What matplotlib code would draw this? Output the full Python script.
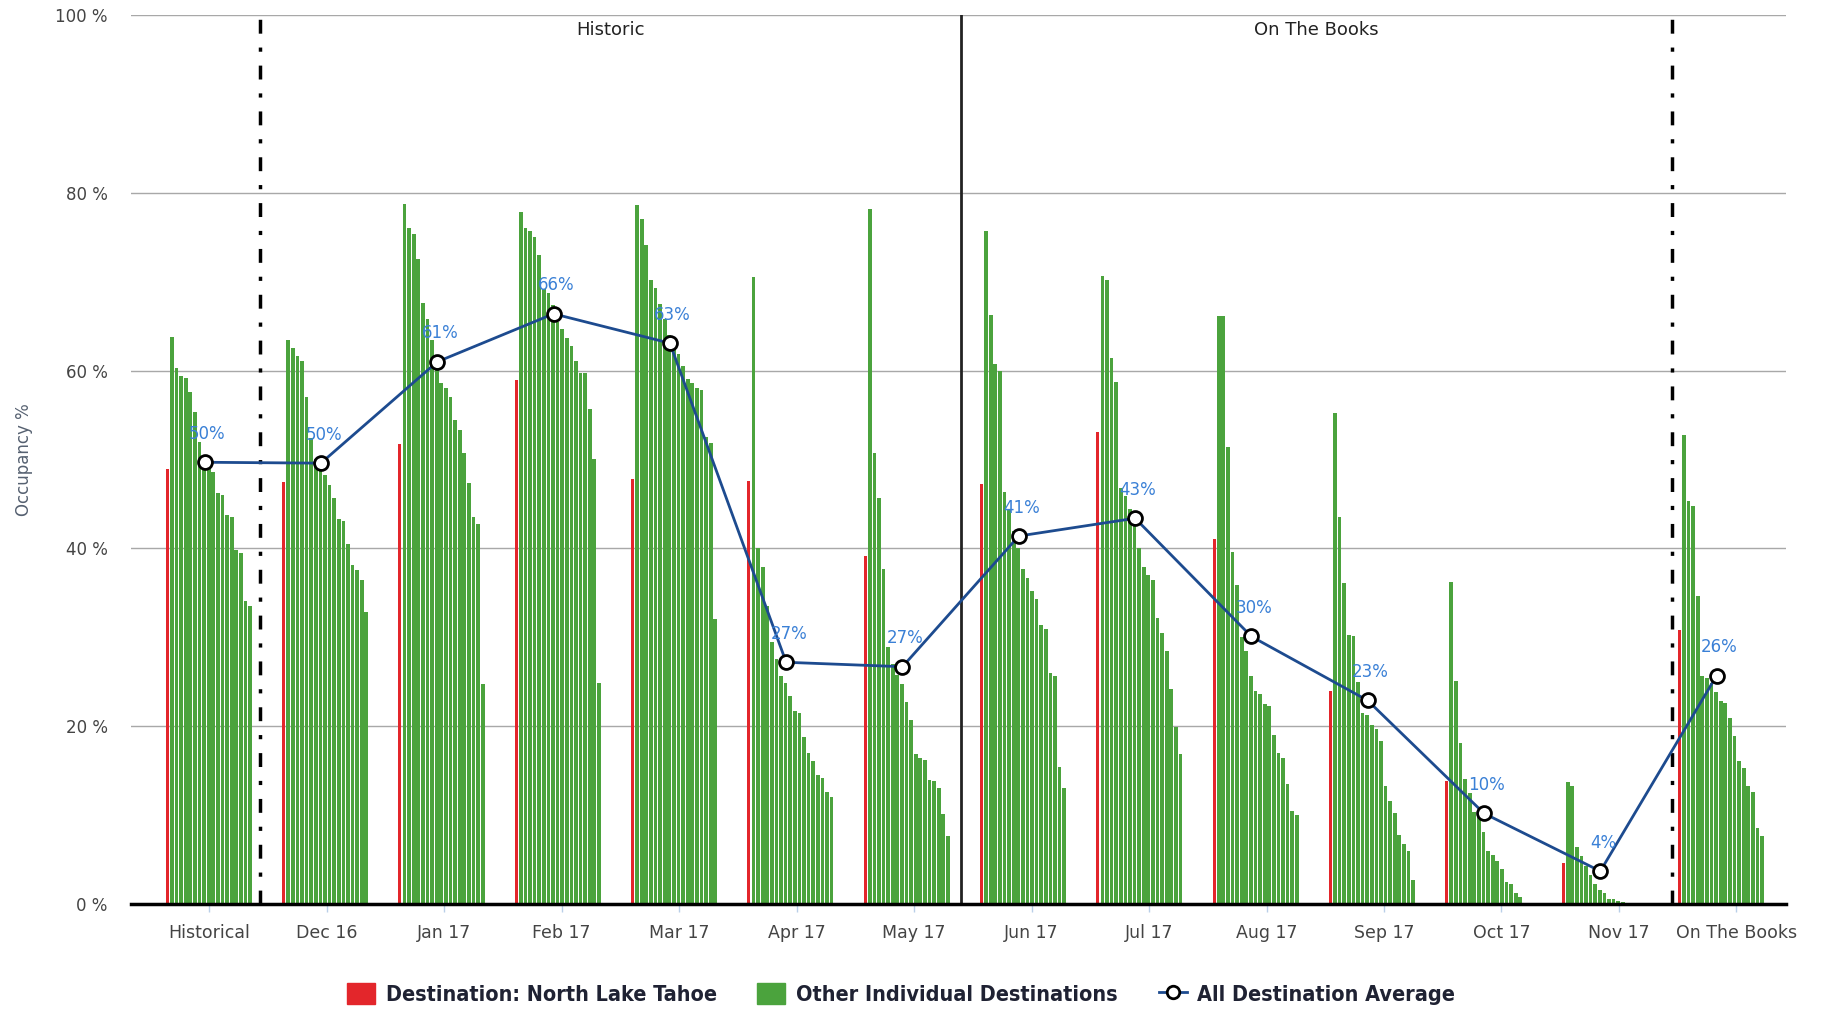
"""
Occupancy by month: North Lake Tahoe vs other destinations, with all-destination average.
"""
import matplotlib.pyplot as plt
from matplotlib.patches import Patch
from matplotlib.lines import Line2D
import numpy as np

categories = ["Historical", "Dec 16", "Jan 17", "Feb 17", "Mar 17", "Apr 17", "May 17",
              "Jun 17", "Jul 17", "Aug 17", "Sep 17", "Oct 17", "Nov 17", "On The Books"]

# Destination: North Lake Tahoe (one bar per month)
tahoe = [48.9, 47.5, 51.8, 59.0, 47.8, 47.6, 39.2, 47.2, 53.1, 41.1, 24.0, 13.9, 4.6, 30.8]

# Other individual destinations, sorted high to low within each month
hist_green = [63.8, 60.3, 59.4, 59.2, 57.6, 55.4, 52.0, 50.1, 49.9, 48.6, 46.2, 46.0, 43.8, 43.5, 39.8, 39.5, 34.1, 33.5]
dec16_green = [63.5, 62.6, 61.7, 61.1, 57.0, 52.4, 50.1, 49.0, 48.3, 47.1, 45.7, 43.3, 43.1, 40.5, 38.1, 37.6, 36.4, 32.8]
jan17_green = [78.7, 76.0, 75.4, 72.6, 67.6, 65.8, 63.4, 61.2, 58.6, 58.0, 57.0, 54.4, 53.3, 50.7, 47.4, 43.5, 42.7, 24.8]
feb17_green = [77.9, 76.0, 75.7, 75.0, 73.0, 69.2, 68.7, 67.4, 65.5, 64.7, 63.7, 62.8, 61.1, 59.7, 59.7, 55.7, 50.1, 24.9]
mar17_green = [78.6, 77.1, 74.1, 70.2, 69.3, 67.5, 65.8, 64.0, 63.0, 61.9, 60.5, 59.1, 58.6, 58.0, 57.8, 52.5, 51.9, 32.1]
apr17_green = [70.5, 40.1, 37.9, 33.5, 29.5, 27.6, 25.7, 24.9, 23.4, 21.7, 21.5, 18.8, 17.0, 16.1, 14.5, 14.2, 12.6, 12.1]
may17_green = [78.2, 50.7, 45.7, 37.7, 28.9, 27.0, 25.8, 24.8, 22.7, 20.7, 16.9, 16.4, 16.2, 14.0, 13.8, 13.1, 10.1, 7.7]
jun17_green = [75.7, 66.3, 60.7, 60.0, 46.3, 44.4, 42.0, 40.0, 37.7, 36.7, 35.2, 34.3, 31.4, 30.9, 26.0, 25.7, 15.4, 13.1]
jul17_green = [70.7, 70.2, 61.4, 58.7, 46.8, 45.9, 44.4, 43.0, 40.1, 37.9, 37.0, 36.5, 32.2, 30.5, 28.5, 24.2, 19.9, 16.9]
aug17_green = [66.2, 66.2, 51.4, 39.6, 35.9, 30.0, 28.5, 25.7, 24.0, 23.6, 22.5, 22.3, 19.0, 17.0, 16.4, 13.5, 10.5, 10.0]
sep17_green = [55.2, 43.5, 36.1, 30.3, 30.2, 25.0, 21.5, 21.3, 20.1, 19.7, 18.4, 13.3, 11.6, 10.2, 7.8, 6.8, 6.0, 2.7]
oct17_green = [36.2, 25.1, 18.1, 14.1, 12.5, 10.4, 10.1, 8.1, 6.0, 5.5, 4.8, 3.9, 2.5, 2.3, 1.2, 0.8, 0.0, 0.0]
nov17_green = [13.7, 13.3, 6.4, 5.4, 4.3, 3.3, 2.3, 1.6, 1.2, 0.6, 0.6, 0.4, 0.2, 0.0, 0.0, 0.0, 0.0, 0.0]
otb_green = [52.8, 45.3, 44.8, 34.6, 25.7, 25.4, 24.9, 23.8, 22.8, 22.6, 20.9, 18.9, 16.1, 15.3, 13.3, 12.6, 8.6, 7.7]

others = [hist_green, dec16_green, jan17_green, feb17_green, mar17_green, apr17_green,
          may17_green, jun17_green, jul17_green, aug17_green, sep17_green, oct17_green,
          nov17_green, otb_green]

# All destination average
average = [49.7, 49.6, 61.0, 66.4, 63.1, 27.2, 26.7, 41.4, 43.4, 30.1, 22.9, 10.2, 3.7, 25.7]

RED = "#e3262b"
GREEN = "#4ba33d"
LINE = "#1d4b8f"
LABEL = "#3a80d6"
TEXT = "#444444"

fig = plt.figure(figsize=(18.24, 10.09), dpi=100)
ax = fig.add_axes([0.072, 0.104, 0.9074, 0.881])

pitch = 0.0395
width = 0.032
x = np.arange(len(categories))

for i, (red, greens) in enumerate(zip(tahoe, others)):
    n = len(greens) + 1
    offs = (np.arange(n) - (n - 1) / 2) * pitch + 0.035
    ax.bar(x[i] + offs[0], red, width=width * 0.8, color=RED, zorder=2)
    ax.bar(x[i] + offs[1:], greens, width=width, color=GREEN, zorder=2)

ax.plot(x, average, color=LINE, lw=2, marker="o", markersize=10,
        markerfacecolor="white", markeredgecolor="black", markeredgewidth=2, zorder=4)
for xi, v in zip(x, average):
    ax.annotate(f"{round(v)}%", (xi, v), xytext=(2, 14), textcoords="offset points",
                ha="center", va="bottom", color=LABEL, fontsize=12, zorder=5)

# section separators
dashdot = (0, (4, 4, 1.2, 4))
ax.axvline(0.48, color="black", lw=2.5, linestyle=dashdot, zorder=3)
ax.axvline(6.50, color="#222222", lw=2, zorder=3)
ax.axvline(12.62, color="black", lw=2.5, linestyle=dashdot, zorder=3)
ax.text((0.48 + 6.50) / 2, 98.3, "Historic", ha="center", va="center", fontsize=13, color="#222222")
ax.text((6.50 + 12.62) / 2, 98.3, "On The Books", ha="center", va="center", fontsize=13, color="#222222")

ax.set_xlim(-0.63, 13.6)
ax.set_ylim(0, 100)
ax.set_yticks(range(0, 101, 20))
ax.set_yticklabels([f"{v} %" for v in range(0, 101, 20)])
# the category labels sit a little right of the bar groups in the original
ax.set_xticks(x * 1.01 + 0.04)
ax.set_xticklabels(categories)
ax.tick_params(axis="y", length=0, pad=17, labelsize=12, labelcolor=TEXT)
ax.tick_params(axis="x", length=6, width=1, color="#b9cfe8", pad=8, labelsize=12.5, labelcolor=TEXT)
ax.set_ylabel("Occupancy %", fontsize=12, color="#556070", labelpad=16)
ax.yaxis.grid(True, color="#a8a8a8", lw=1)
ax.set_axisbelow(True)
for s in ["top", "right", "left"]:
    ax.spines[s].set_visible(False)
ax.spines["bottom"].set_linewidth(2.5)
ax.spines["bottom"].set_color("black")
ax.spines["bottom"].set_zorder(6)

handles = [
    Patch(color=RED, label="Destination: North Lake Tahoe"),
    Patch(color=GREEN, label="Other Individual Destinations"),
    Line2D([], [], color=LINE, lw=2, marker="o", markersize=9, markerfacecolor="white",
           markeredgecolor="black", markeredgewidth=2, label="All Destination Average"),
]
fig.legend(handles=handles, loc="center", bbox_to_anchor=(0.494, 0.015), ncol=3, frameon=False,
           prop={"family": "DejaVu Sans", "stretch": "condensed", "size": 15.5, "weight": "bold"},
           handlelength=1.3, handleheight=1.1, columnspacing=1.9, handletextpad=0.5, labelcolor="#1f2233")

plt.savefig("out.png")
plt.close()
